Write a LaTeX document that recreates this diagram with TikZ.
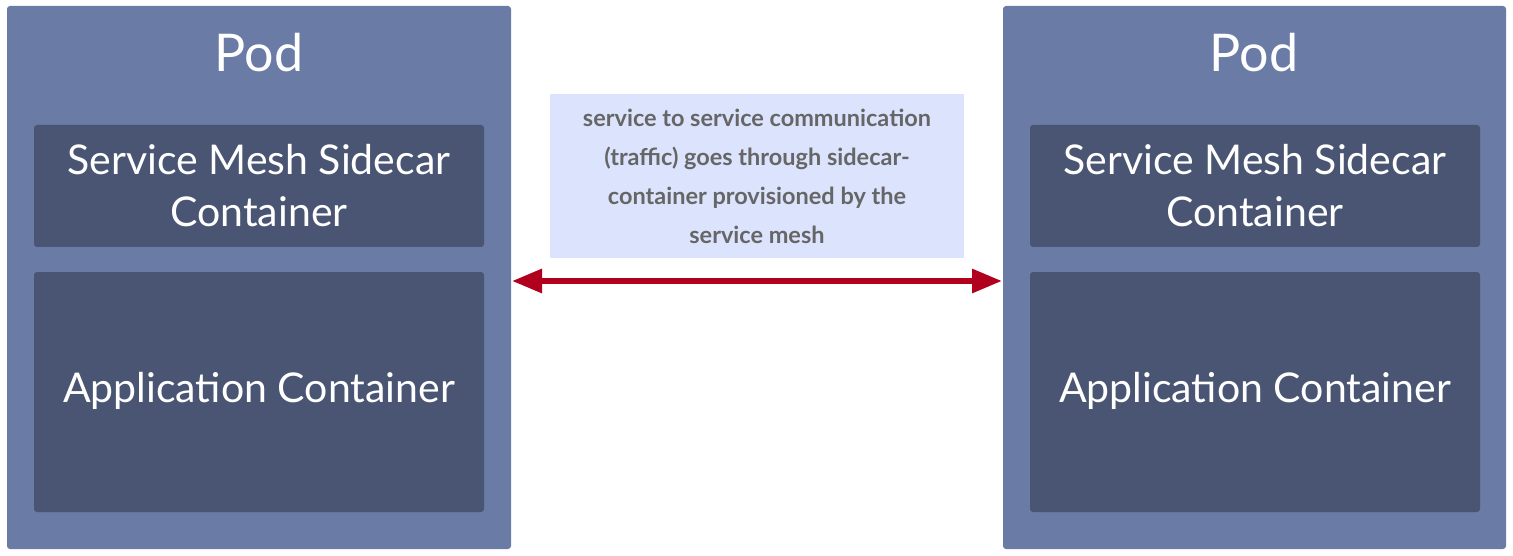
\documentclass[tikz,border=0pt]{standalone}
\usepackage{fontspec}
\setmainfont{Lato}
\usetikzlibrary{arrows.meta}
\definecolor{podc}{HTML}{6A7BA5}
\definecolor{innerc}{HTML}{4A5573}
\definecolor{labelbg}{HTML}{DCE3FD}
\definecolor{labeltxt}{HTML}{666666}
\definecolor{arrowc}{HTML}{B0001E}
\begin{document}
\begin{tikzpicture}[x=1pt,y=-1pt,
  pod/.style={fill=podc,rounded corners=3pt},
  inner/.style={fill=innerc,rounded corners=3pt},
  podtitle/.style={text=white,font=\fontsize{52}{60}\selectfont,inner sep=0pt},
  boxtext/.style={text=white,font=\fontsize{41}{52}\selectfont,align=center,inner sep=0pt},
  note/.style={fill=labelbg,text=labeltxt,font=\bfseries\fontsize{23.5}{39}\selectfont,align=center,inner sep=0pt,minimum width=414pt,minimum height=164pt},
  link/.style={arrowc,line width=6pt,{Triangle[length=30pt,width=23pt]}-{Triangle[length=30pt,width=23pt]}}
]
\useasboundingbox (0,0) rectangle (1513,556);
% left pod
\path[pod] (7,6) rectangle (511,549);
\node[podtitle] (lt) at (259,53) {Pod};
\path[inner] (34,125) rectangle (484,247);
\node[boxtext] (ls) at (259,186) {Service Mesh Sidecar\\Container};
\path[inner] (34,272) rectangle (484,512);
\node[boxtext] (la) at (259,391) {Application Container};
% right pod
\path[pod] (1003,6) rectangle (1506,549);
\node[podtitle] (rt) at (1254,53) {Pod};
\path[inner] (1030,125) rectangle (1480,247);
\node[boxtext] (rs) at (1255,186) {Service Mesh Sidecar\\Container};
\path[inner] (1030,272) rectangle (1480,512);
\node[boxtext] (ra) at (1255,391) {Application Container};
% note
\node[note] (n) at (757,176) {service to service communication\\(traffic) goes through sidecar-\\container provisioned by the\\service mesh};
\coordinate (l) at (512,281);
\coordinate (r) at (1002,281);
\draw[link] (l) -- (r);
\end{tikzpicture}
\end{document}
